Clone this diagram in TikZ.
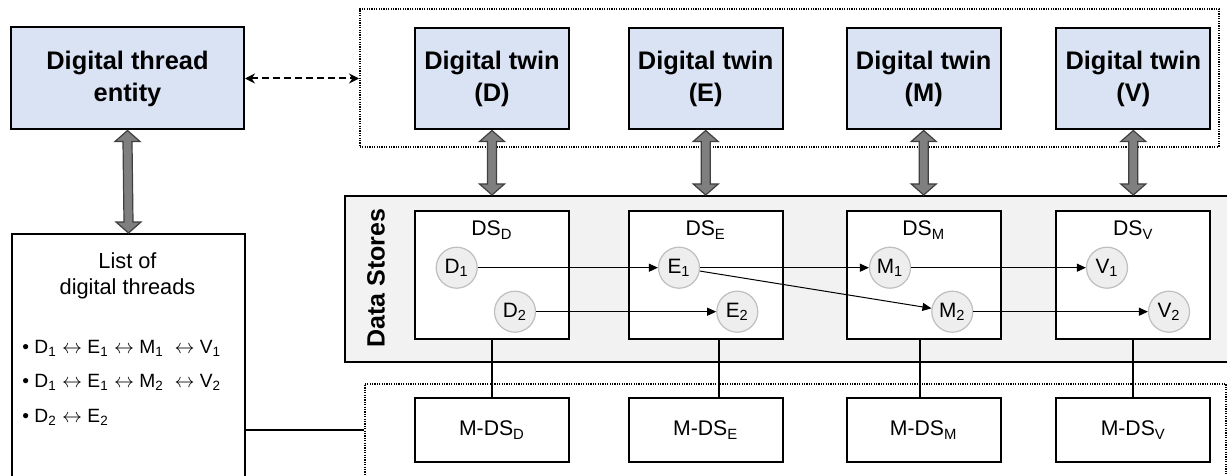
\documentclass[tikz,border=0pt]{standalone}
\usepackage{fontspec}
\setmainfont{Liberation Sans}
\usetikzlibrary{arrows.meta,calc}
\definecolor{twinblue}{HTML}{DAE3F3}
\definecolor{panelgray}{HTML}{F2F2F2}
\definecolor{circfill}{HTML}{EEEEEE}
\definecolor{circline}{HTML}{BFBFBF}
\definecolor{fatfill}{HTML}{7F7F7F}
\definecolor{fatline}{HTML}{404040}
\newcommand{\sub}[1]{\textsubscript{#1}}
\newcommand{\lra}{\ensuremath{\leftrightarrow}}
\newcommand{\fatarrow}[2]{%
  \draw[fatarr] (#1) -- ++(12.5,11) -- ++(-8,0) -- ($(#2)+(4.5,-11)$) -- ++(8,0) -- (#2)
    -- ++(-12.5,-11) -- ++(8,0) -- ($(#1)+(-4.5,11)$) -- ++(-8,0) -- cycle;}
\begin{document}
\begin{tikzpicture}[x=0.5pt,y=-0.5pt,
  box/.style={draw=black, line width=1pt, inner sep=0pt, align=center},
  twin/.style={box, fill=twinblue, minimum width=77pt, minimum height=50.75pt,
    font=\fontsize{12.7}{16}\selectfont\bfseries},
  group/.style={draw=black, line width=0.8pt, dash pattern=on 0.6pt off 0.6pt, inner sep=0pt, anchor=north west},
  dsbox/.style={box, fill=white, minimum width=77pt, minimum height=64.3pt},
  dslabel/.style={inner sep=0pt, font=\fontsize{10.6}{12}\selectfont},
  mdsbox/.style={box, fill=white, minimum width=77pt, minimum height=31.7pt, font=\fontsize{10.6}{12}\selectfont},
  circnode/.style={circle, draw=circline, fill=circfill, line width=0.6pt, minimum size=20.5pt, inner sep=0pt,
    font=\fontsize{10.4}{11}\selectfont},
  flow/.style={-{Triangle[length=4.5pt,width=4pt]}, line width=0.5pt, black},
  fatarr/.style={draw=fatline, fill=fatfill, line width=0.6pt},
  dasharr/.style={{Stealth[length=5pt,width=5pt]}-{Stealth[length=5pt,width=5pt]}, line width=1pt, dash pattern=on 3.5pt off 2pt},
  link/.style={line width=1pt, black},
  bullet/.style={anchor=west, inner sep=0pt, font=\fontsize{9.6}{11}\selectfont}
]
\useasboundingbox (0,0) rectangle (1227,476);

% groups
\node[group, minimum width=429.5pt, minimum height=69pt] (topgroup) at (359,8) {};
\node[group, minimum width=430.5pt, minimum height=60pt] (botgroup) at (364,383) {};

% digital thread entity and list
\node[box, fill=twinblue, minimum width=116.5pt, minimum height=51pt,
  font=\fontsize{12.7}{16}\selectfont\bfseries] (entity) at (127.5,78.5) {Digital thread\\entity};
\node[box, anchor=north west, minimum width=116.5pt, minimum height=140pt] (list) at (11,233) {};
\node[inner sep=0pt, align=center, font=\fontsize{10.9}{13}\selectfont] (listhead) at (127.5,276) {List of\\digital threads};
\node[bullet] (b1) at (22,348) {• D\sub{1} \lra{} E\sub{1} \lra{} M\sub{1} \ \lra{} V\sub{1}};
\node[bullet] (b2) at (22,382) {• D\sub{1} \lra{} E\sub{1} \lra{} M\sub{2} \ \lra{} V\sub{2}};
\node[bullet] (b3) at (22,417) {• D\sub{2} \lra{} E\sub{2}};

% digital twins
\node[twin] (twD) at (492,78.75) {Digital twin\\(D)};
\node[twin] (twE) at (705.7,78.75) {Digital twin\\(E)};
\node[twin] (twM) at (923.7,78.75) {Digital twin\\(M)};
\node[twin] (twV) at (1133.3,78.75) {Digital twin\\(V)};

% data stores panel
\node[draw=black, line width=0.8pt, fill=panelgray, anchor=north west, inner sep=0pt,
  minimum width=445.5pt, minimum height=83pt] (panel) at (344,195) {};
\node[rotate=90, inner sep=0pt, font=\fontsize{12.5}{14}\selectfont\bfseries] (dslab) at (376,278) {Data Stores};

\node[dsbox] (dsD) at (492,275) {};
\node[dsbox] (dsE) at (705.7,275) {};
\node[dsbox] (dsM) at (923.7,275) {};
\node[dsbox] (dsV) at (1133.3,275) {};
\node[dslabel] (lD) at (492,230) {DS\sub{D}};
\node[dslabel] (lE) at (705.7,230) {DS\sub{E}};
\node[dslabel] (lM) at (923.7,230) {DS\sub{M}};
\node[dslabel] (lV) at (1133.3,230) {DS\sub{V}};

% items
\node[circnode] (D1) at (456.7,267.7) {D\sub{1}};
\node[circnode] (D2) at (515,311.7) {D\sub{2}};
\node[circnode] (E1) at (679,267.7) {E\sub{1}};
\node[circnode] (E2) at (737.3,311.7) {E\sub{2}};
\node[circnode] (M1) at (890,267.7) {M\sub{1}};
\node[circnode] (M2) at (952.3,311.7) {M\sub{2}};
\node[circnode] (V1) at (1107,267.7) {V\sub{1}};
\node[circnode] (V2) at (1169,311.7) {V\sub{2}};

\draw[flow] (D1) -- (E1);
\draw[flow] (E1) -- (M1);
\draw[flow] (E1) -- (M2);
\draw[flow] (M1) -- (V1);
\draw[flow] (D2) -- (E2);
\draw[flow] (M2) -- (V2);

% M-DS boxes
\node[mdsbox] (mD) at (492,430) {M-DS\sub{D}};
\node[mdsbox] (mE) at (705.7,430) {M-DS\sub{E}};
\node[mdsbox] (mM) at (923.7,430) {M-DS\sub{M}};
\node[mdsbox] (mV) at (1133.3,430) {M-DS\sub{V}};

\coordinate (cE) at (719,0);
\coordinate (cM) at (920,0);
\draw[link] (dsD.south) -- (mD.north);
\draw[link] (dsE.south -| cE) -- (mE.north -| cE);
\draw[link] (dsM.south -| cM) -- (mM.north -| cM);
\draw[link] (dsV.south) -- (mV.north);

% list to monitoring group
\coordinate (lk) at (244,430);
\draw[link] (lk) -- (lk -| botgroup.west);

% dashed link
\draw[dasharr] (entity.east) -- (entity.east -| topgroup.west);

% fat arrows
\coordinate (eb) at (entity.south);
\coordinate (lt) at (list.north);
\fatarrow{eb}{lt}
\coordinate (pD) at (twD.south |- panel.north);
\coordinate (pE) at (twE.south |- panel.north);
\coordinate (pM) at (twM.south |- panel.north);
\coordinate (pV) at (twV.south |- panel.north);
\fatarrow{twD.south}{pD}
\fatarrow{twE.south}{pE}
\fatarrow{twM.south}{pM}
\fatarrow{twV.south}{pV}
\end{tikzpicture}
\end{document}
